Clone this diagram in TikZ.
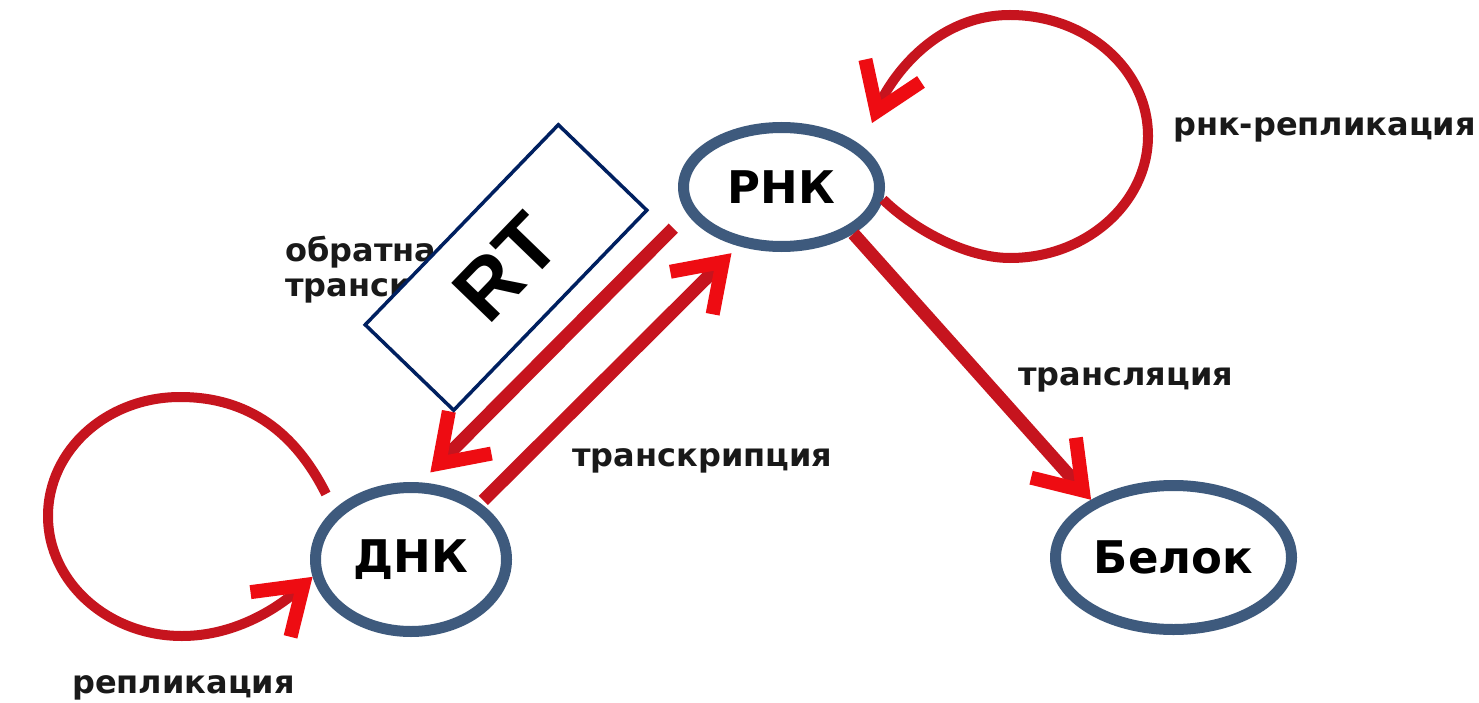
\documentclass[tikz,border=0pt]{standalone}
\usepackage{fontspec}
\setmainfont{DejaVu Sans}
\newfontfamily\rtfont{Liberation Sans}
\usetikzlibrary{arrows.meta,shapes.geometric}
\definecolor{nodeblue}{RGB}{62,90,125}
\definecolor{linered}{RGB}{198,20,30}
\definecolor{tipred}{RGB}{238,12,18}
\definecolor{navy}{RGB}{0,32,96}
\definecolor{txt}{RGB}{25,25,25}
\tikzset{
  mol/.style={ellipse, draw=nodeblue, line width=11pt, fill=white, inner sep=0pt,
    font=\fontsize{45}{50}\selectfont\bfseries, text=black},
  conn/.style={draw=linered, line width=13pt,
    -{Straight Barb[length=44pt,width=60pt,line width=14pt,color=tipred]}},
  loopc/.style={conn, line width=10pt},
  lbl/.style={inner sep=0pt, anchor=base west,
    font=\fontsize{32}{35}\selectfont\bfseries, text=txt},
  rtbox/.style={draw=navy, line width=3.5pt, fill=white, minimum width=278pt,
    minimum height=123pt, inner sep=0pt, rotate=46,
    font=\rtfont\fontsize{82}{86}\selectfont\bfseries, text=black}
}
\begin{document}
\begin{tikzpicture}[x=1pt,y=-1pt]
\path[fill=white] (0,0) rectangle (1479,703);
\useasboundingbox (0,0) rectangle (1479,703);

% molecules
\node[mol, minimum width=196pt, minimum height=119pt] (rna) at (781.5,187) {РНК};
\node[mol, minimum width=191pt, minimum height=144pt] (dna) at (411,559.5) {ДНК};
\node[mol, minimum width=236pt, minimum height=144pt] (prot) at (1173.5,557.5) {Белок};

% labels
\node[lbl] (lrr) at (1173,136) {рнк-репликация};
\node[lbl] (ltl) at (1018,385) {трансляция};
\node[lbl] (ltc) at (572,466) {транскрипция};
\node[lbl] (lrep) at (72,693) {репликация};
\node[lbl, anchor=north west, align=left] (lrt) at (285,236) {обратная\\транскрипция};

% free ends of the loops
\coordinate (rtip) at (872,123);
\coordinate (dls) at (326,494);

% connectors
\draw[conn, shorten <=20pt, shorten >=14pt] (rna.196) -- (dna.83);
\draw[conn, shorten <=4pt, shorten >=10pt] (dna.39) -- (rna.234);
\draw[conn] (rna.-33) -- (prot.145);

% self loops
\draw[loopc] (rna.-7) .. controls (912,228) and (965,258) .. (1010,258)
  .. controls (1086,258) and (1148,203) .. (1148,136)
  .. controls (1148,69) and (1086,15) .. (1010,15)
  .. controls (930,15) and (887,86) .. (rtip);
\draw[loopc] (dls) .. controls (296,434) and (250,397) .. (180,397)
  .. controls (107,397) and (48,450) .. (48,516)
  .. controls (48,582) and (108,636) .. (182,636)
  .. controls (237,636) and (280,606) .. (dna.190);

% RT box
\node[rtbox] (rt) at (506,267.5) {RT};
\end{tikzpicture}
\end{document}
